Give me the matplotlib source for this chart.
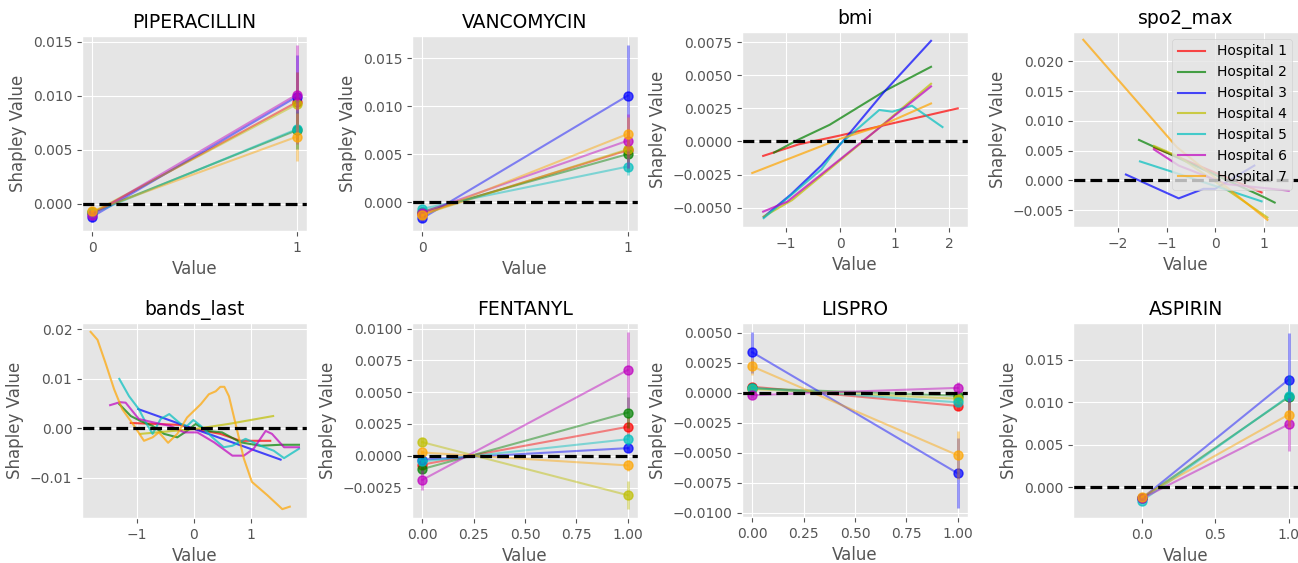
import numpy as np
import matplotlib
matplotlib.use("Agg")
import matplotlib.pyplot as plt
from matplotlib.ticker import MultipleLocator

plt.style.use("ggplot")

# cores e nomes dos hospitais
hospitais = ["Hospital 1", "Hospital 2", "Hospital 3", "Hospital 4",
             "Hospital 5", "Hospital 6", "Hospital 7"]
cores = ["r", "g", "b", "y", "c", "m", "orange"]
nan = np.nan

# variaveis binarias: media em 0 e 1, desvio em 0 e 1
piper_m0 = [-0.0009, -0.0008, -0.0012, -0.0008, -0.0009, -0.0010, -0.0007]
piper_m1 = [0.0094, 0.0068, 0.0099, 0.0092, 0.0069, 0.0101, 0.0062]
piper_s0 = [0.0003, 0.0003, 0.0005, 0.0003, 0.0003, 0.0003, 0.0003]
piper_s1 = [0.0028, 0.0017, 0.0039, 0.0030, 0.0018, 0.0046, 0.0022]

vanco_m0 = [-0.0012, -0.0010, -0.0017, -0.0013, -0.0007, -0.0011, -0.0014]
vanco_m1 = [0.0054, 0.0050, 0.0111, 0.0055, 0.0037, 0.0064, 0.0071]
vanco_s0 = [0.0003, 0.0003, 0.0004, 0.0003, 0.0003, 0.0003, 0.0003]
vanco_s1 = [0.0022, 0.0015, 0.0053, 0.0015, 0.0009, 0.0028, 0.0018]

fent_m0 = [-0.0007, -0.00105, -0.0003, 0.00107, -0.00045, -0.0019, 0.00026]
fent_m1 = [0.00228, 0.0034, 0.0006, -0.0031, 0.0013, 0.00675, -0.00076]
fent_s0 = [0.0003, 0.0003, 0.0002, 0.0003, 0.0002, 0.0008, 0.0002]
fent_s1 = [0.0008, 0.0012, 0.0003, 0.0011, 0.0005, 0.0030, 0.0004]

lispro_m0 = [0.0005, 0.00036, 0.00336, 0.0003, 0.0004, -0.0002, 0.00218]
lispro_m1 = [-0.0011, -0.00025, -0.0067, -0.0005, -0.0008, 0.0004, -0.0052]
lispro_s0 = [0.0002, 0.0002, 0.0017, 0.0002, 0.0002, 0.0002, 0.0007]
lispro_s1 = [0.0003, 0.0003, 0.0029, 0.0003, 0.0003, 0.0005, 0.0020]

aspirin_m0 = [nan, -0.0013, -0.0013, nan, -0.0016, -0.0013, -0.0011]
aspirin_m1 = [nan, 0.0106, 0.01266, nan, 0.0107, 0.0074, 0.00855]
aspirin_s0 = [nan, 0.0002, 0.0003, nan, 0.0002, 0.0002, 0.0002]
aspirin_s1 = [nan, 0.0025, 0.0055, nan, 0.0025, 0.0031, 0.0015]

# variaveis continuas: curvas por hospital
bmi_x = [
    [-1.41, -0.76, 0.0, 0.72, 2.16],
    [-1.21, -0.76, -0.19, 0.84, 1.67],
    [-1.40, -0.90, -0.34, 0.05, 0.80, 1.67],
    [-1.40, -0.88, 0.42, 1.67],
    [-1.40, -0.34, 0.0, 0.72, 0.96, 1.32, 1.88],
    [-1.41, -0.97, 1.67],
    [-1.61, 0.0, 0.72, 1.67],
]
bmi_y = [
    [-0.00109, -0.00022, 0.00045, 0.00114, 0.0025],
    [-0.00084, 0.00015, 0.00126, 0.00386, 0.00564],
    [-0.0057, -0.0040, -0.0018, 0.0, 0.0037, 0.0076],
    [-0.00567, -0.00443, 0.0, 0.00436],
    [-0.00579, -0.0021, -0.0002, 0.00238, 0.00225, 0.0027, 0.00109],
    [-0.0053, -0.00455, 0.00416],
    [-0.00238, 0.0002, 0.00114, 0.00287],
]

spo2_x = [
    [-1.26, -0.75, 0.96],
    [-1.57, 1.01, 1.23],
    [-1.84, -0.75, -0.24, 0.0, 0.81],
    [-1.26, -0.75, 1.08],
    [-1.55, -0.75, 0.96],
    [-1.26, -0.75, 0.23, 1.52],
    [-2.72, -0.79, 1.08],
]
spo2_y = [
    [0.0055, 0.0039, -0.0020],
    [0.0068, -0.0028, -0.0037],
    [0.0010, -0.0030, -0.0014, -0.0014, 0.0025],
    [0.0058, 0.0040, -0.0062],
    [0.0032, 0.0011, -0.0035],
    [0.0052, 0.0025, -0.0006, -0.0017],
    [0.0236, 0.0056, -0.0066],
]

bands_x = [
    [-1.10, -0.23, 0.0, 0.46, 0.81, 1.33],
    [-1.30, -1.10, -0.93, -0.72, -0.52, -0.29, -0.12, 0.03, 0.23, 0.49, 0.81, 1.16, 1.51, 1.83],
    [-0.97, -0.17, 0.35, 1.51],
    [-0.93, 0.03, 0.60, 1.38],
    [-1.30, -1.13, -0.96, -0.84, -0.72, -0.58, -0.43, -0.23, -0.12, -0.01, 0.12, 0.32, 0.52,
     0.67, 0.90, 1.16, 1.39, 1.57, 1.83],
    [-1.46, -1.29, -1.19, -0.96, -0.70, -0.41, -0.17, 0.06, 0.35, 0.67, 0.87, 1.04, 1.25,
     1.36, 1.57, 1.83],
    [-1.80, -1.68, -1.54, -1.39, -1.25, -1.04, -0.87, -0.72, -0.61, -0.45, -0.29, -0.12,
     0.12, 0.26, 0.38, 0.46, 0.53, 0.61, 0.72, 0.87, 1.01, 1.28, 1.54, 1.67],
]
bands_y = [
    [0.0011, 0.0007, -0.0001, -0.0011, -0.0025, -0.0025],
    [0.0049, 0.0025, 0.0015, 0.0005, -0.0011, -0.0018, -0.0005, 0.0009, -0.0005, -0.0008,
     -0.0028, -0.0035, -0.0033, -0.0033],
    [0.0039, 0.0006, -0.0015, -0.0063],
    [-0.0011, -0.0001, 0.0009, 0.0025],
    [0.0100, 0.0065, 0.0039, 0.0012, -0.0011, 0.0019, 0.0029, 0.0009, 0.0005, 0.0017, 0.0005,
     -0.0018, -0.0038, -0.0035, -0.0021, -0.0035, -0.0045, -0.0060, -0.0041],
    [0.0047, 0.0053, 0.0052, 0.0019, 0.0012, 0.0005, -0.0008, -0.0008, -0.0028, -0.0055,
     -0.0055, -0.0041, -0.0005, -0.0011, -0.0038, -0.0038],
    [0.0195, 0.0179, 0.0132, 0.0079, 0.0039, 0.0005, -0.0025, -0.0018, -0.0008, -0.0029,
     -0.0011, 0.0022, 0.0049, 0.0069, 0.0075, 0.0084, 0.0084, 0.0065, 0.0012, -0.0061,
     -0.0108, -0.0135, -0.0163, -0.0158],
]

W, H = 1298, 563
fig = plt.figure(figsize=(W / 100, H / 100), dpi=100)


def eixo(l, t, r, b):
    # posiciona o eixo em pixels
    return fig.add_axes([l / W, 1 - b / H, (r - l) / W, (b - t) / H])


def binario(ax, titulo, m0, m1, s0, s1, ticks=None):
    for i in range(len(hospitais)):
        if np.isnan(m0[i]):
            continue
        c = cores[i]
        ax.plot([0, 1], [m0[i], m1[i]], color=c, alpha=0.45, lw=1.5)
        ax.errorbar([0, 1], [m0[i], m1[i]], yerr=[s0[i], s1[i]], fmt="none",
                    ecolor=c, alpha=0.4, elinewidth=2)
        ax.plot([0, 1], [m0[i], m1[i]], "o", color=c, alpha=0.7, ms=6.5,
                label=hospitais[i])
    ax.axhline(0, color="black", linestyle="--", lw=2.3)
    if ticks is not None:
        ax.set_xticks(ticks)
    ax.set_title(titulo, fontsize=13.5)
    ax.set_xlabel("Value")
    ax.set_ylabel("Shapley Value")


def continuo(ax, titulo, xs, ys, legenda=False):
    for i in range(len(hospitais)):
        ax.plot(xs[i], ys[i], color=cores[i], alpha=0.7, lw=1.5, label=hospitais[i])
    ax.axhline(0, color="black", linestyle="--", lw=2.3)
    ax.set_title(titulo, fontsize=13.5)
    ax.set_xlabel("Value")
    ax.set_ylabel("Shapley Value")
    if legenda:
        ax.legend(loc="upper right", fontsize=10)


ax = eixo(82, 36, 307, 231)
binario(ax, "PIPERACILLIN", piper_m0, piper_m1, piper_s0, piper_s1, ticks=[0, 1])

ax = eixo(412, 36, 638, 231)
binario(ax, "VANCOMYCIN", vanco_m0, vanco_m1, vanco_s0, vanco_s1, ticks=[0, 1])

ax = eixo(742, 32, 968, 227)
continuo(ax, "bmi", bmi_x, bmi_y)

ax = eixo(1073, 32, 1299, 227)
continuo(ax, "spo2_max", spo2_x, spo2_y, legenda=True)
ax.set_ylim(-0.0078, 0.0249)

ax = eixo(82, 323, 307, 518)
continuo(ax, "bands_last", bands_x, bands_y)
ax.set_xlim(-1.95, 1.97)

ax = eixo(412, 323, 638, 518)
binario(ax, "FENTANYL", fent_m0, fent_m1, fent_s0, fent_s1)

ax = eixo(742, 323, 968, 517)
binario(ax, "LISPRO", lispro_m0, lispro_m1, lispro_s0, lispro_s1)
ax.yaxis.set_major_locator(MultipleLocator(0.0025))

ax = eixo(1073, 323, 1299, 518)
binario(ax, "ASPIRIN", aspirin_m0, aspirin_m1, aspirin_s0, aspirin_s1)
ax.set_xlim(-0.47, 1.07)
ax.set_ylim(-0.0036, 0.0193)

fig.savefig("out.png", dpi=100)
